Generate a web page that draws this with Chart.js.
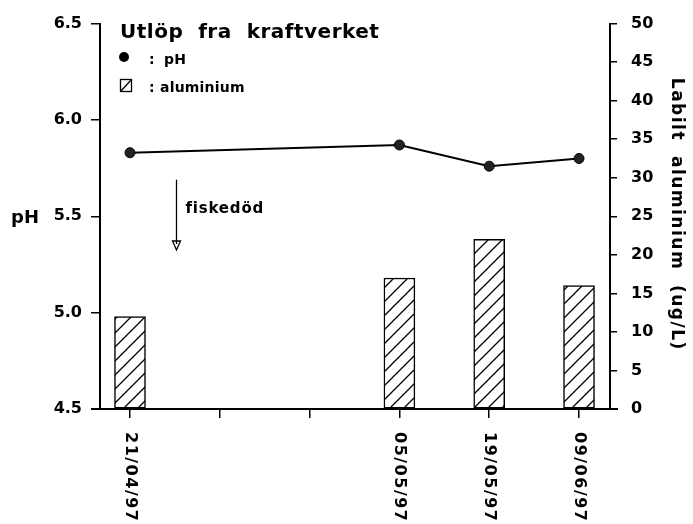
<!DOCTYPE html>
<html><head><meta charset="utf-8">
<script src="https://cdn.jsdelivr.net/npm/chart.js@4"></script>
<style>html,body{margin:0;padding:0;background:#fff}#wrap{width:693px;height:524px;position:relative}</style>
</head><body><div id="wrap"><canvas id="c"></canvas></div>
<script>
const categories = ['21/04/97', '', '', '05/05/97', '19/05/97', '09/06/97'];
const phValues = [5.83, null, null, 5.87, 5.76, 5.80];
const aluminiumValues = [12, null, null, 17, 22, 16];
const phTicks = [4.5, 5.0, 5.5, 6.0, 6.5];
const aluminiumTicks = [0, 5, 10, 15, 20, 25, 30, 35, 40, 45, 50];
const titleText = 'Utlöp  fra  kraftverket';
const phLegend = 'pH';
const alLegend = 'aluminium';
const leftTitle = 'pH';
const rightTitle = 'Labilt  aluminium  (ug/L)';
const noteText = 'fiskedöd';

const canvas = document.getElementById('c');
const ctx0 = canvas.getContext('2d');
function makeHatch() {
  const c = document.createElement('canvas');
  c.width = 14; c.height = 14;
  const g = c.getContext('2d');
  g.fillStyle = '#fff'; g.fillRect(0, 0, 14, 14);
  g.strokeStyle = '#000'; g.lineWidth = 1.3;
  g.beginPath();
  g.moveTo(-2, 16); g.lineTo(16, -2);
  g.moveTo(-2, 2); g.lineTo(2, -2);
  g.moveTo(12, 16); g.lineTo(16, 12);
  g.stroke();
  return ctx0.createPattern(c, 'repeat');
}
const hatch = makeHatch();

const toPoints = arr => arr.map((v, i) => v === null ? null : ({x: i, y: v})).filter(p => p);

const FONT = '"DejaVu Sans", sans-serif';

const decor = {
  id: 'decor',
  afterDraw(chart) {
    const ctx = chart.ctx;
    const xs = chart.scales.x, yp = chart.scales.y;
    ctx.save();
    ctx.fillStyle = '#000';
    ctx.strokeStyle = '#000';
    // x labels, rotated clockwise
    ctx.font = 'bold 16px ' + FONT;
    ctx.letterSpacing = '1.5px';
    categories.forEach((lab, i) => {
      if (!lab) return;
      const px = xs.getPixelForValue(i);
      ctx.save();
      ctx.translate(px, xs.top + 23);
      ctx.rotate(Math.PI / 2);
      ctx.textAlign = 'left';
      ctx.textBaseline = 'middle';
      ctx.fillText(lab, 0, 0);
      ctx.restore();
    });
    // title
    ctx.letterSpacing = '0.5px';
    ctx.font = 'bold 20px ' + FONT;
    ctx.textAlign = 'left';
    ctx.textBaseline = 'alphabetic';
    ctx.fillText(titleText, 120, 38);
    // legend
    ctx.letterSpacing = '0.2px';
    ctx.font = 'bold 14px ' + FONT;
    ctx.beginPath(); ctx.arc(124, 57, 5, 0, Math.PI * 2); ctx.fill();
    ctx.fillText(':', 149, 64);
    ctx.fillText(phLegend, 164, 64);
    ctx.lineWidth = 1.3;
    ctx.strokeRect(120.5, 79.5, 11, 12);
    ctx.beginPath(); ctx.moveTo(120.5, 91.5); ctx.lineTo(131.5, 79.5); ctx.stroke();
    ctx.fillText(':', 149, 92);
    ctx.fillText(alLegend, 160, 92);
    // left title
    ctx.letterSpacing = '0px';
    ctx.font = 'bold 18px ' + FONT;
    ctx.textBaseline = 'middle';
    ctx.fillText(leftTitle, 11, yp.getPixelForValue(5.5) + 2);
    // right title
    ctx.save();
    ctx.letterSpacing = '1.5px';
    ctx.font = 'bold 17px ' + FONT;
    ctx.translate(676, (chart.chartArea.top + chart.chartArea.bottom) / 2 - 2);
    ctx.rotate(Math.PI / 2);
    ctx.textAlign = 'center';
    ctx.textBaseline = 'middle';
    ctx.fillText(rightTitle, 0, 0);
    ctx.restore();
    // annotation arrow
    const ax = Math.round(xs.getPixelForValue(0.51)) + 0.5;
    const y1 = yp.getPixelForValue(5.69), y2 = yp.getPixelForValue(5.325);
    ctx.lineWidth = 1.3;
    ctx.beginPath(); ctx.moveTo(ax, y1); ctx.lineTo(ax, y2 - 6); ctx.stroke();
    ctx.beginPath(); ctx.moveTo(ax - 4, y2 - 9); ctx.lineTo(ax + 4, y2 - 9); ctx.lineTo(ax, y2); ctx.closePath(); ctx.stroke();
    ctx.letterSpacing = '0.8px';
    ctx.font = 'bold 15px ' + FONT;
    ctx.textAlign = 'left';
    ctx.textBaseline = 'middle';
    ctx.fillText(noteText, ax + 9, yp.getPixelForValue(5.535));
    // x axis line extends slightly beyond the y axes
    ctx.lineWidth = 2;
    ctx.beginPath();
    ctx.moveTo(chart.chartArea.left - 9, xs.top); ctx.lineTo(chart.chartArea.right + 8, xs.top);
    ctx.stroke();
    ctx.restore();
  }
};

new Chart(canvas, {
  data: {
    datasets: [
      {
        type: 'line', label: 'pH', data: toPoints(phValues), yAxisID: 'y', xAxisID: 'x',
        borderColor: '#000', borderWidth: 2, tension: 0,
        pointRadius: 5, pointBackgroundColor: '#222', pointBorderColor: '#000', pointBorderWidth: 1,
        order: 1
      },
      {
        type: 'bar', label: 'aluminium', data: toPoints(aluminiumValues), yAxisID: 'yAl', xAxisID: 'x',
        backgroundColor: hatch, borderColor: '#000', borderWidth: 1.5, barThickness: 31,
        borderSkipped: false, order: 2
      }
    ]
  },
  options: {
    responsive: true, maintainAspectRatio: false, animation: false,
    devicePixelRatio: 1,
    layout: {padding: {top: 22, left: 0, right: 0, bottom: 0}},
    plugins: {legend: {display: false}, tooltip: {enabled: false}},
    scales: {
      x: {
        type: 'linear', position: 'bottom', min: -0.334, max: 5.345, offset: false,
        afterBuildTicks: s => { s.ticks = categories.map((_, i) => ({value: i})); },
        afterFit: s => { s.height = 115; },
        ticks: {display: false},
        grid: {display: true, offset: false, drawOnChartArea: false, drawTicks: true, tickLength: 9, color: '#000', lineWidth: 1.5},
        border: {display: true, color: '#000', width: 2}
      },
      y: {
        type: 'linear', position: 'left', min: 4.5, max: 6.5,
        afterBuildTicks: s => { s.ticks = phTicks.map(v => ({value: v})); },
        afterFit: s => { s.width = 100; },
        ticks: {color: '#000', padding: 9, font: {family: FONT, size: 16, weight: 'bold'}, callback: v => v.toFixed(1)},
        grid: {display: true, drawOnChartArea: false, drawTicks: true, tickLength: 9, color: '#000', lineWidth: 1.5},
        border: {display: true, color: '#000', width: 2}
      },
      yAl: {
        type: 'linear', position: 'right', min: 0, max: 50,
        afterBuildTicks: s => { s.ticks = aluminiumTicks.map(v => ({value: v})); },
        afterFit: s => { s.width = 83; },
        ticks: {color: '#000', padding: 14, font: {family: FONT, size: 16, weight: 'bold'}},
        grid: {display: true, drawOnChartArea: false, drawTicks: true, tickLength: 7, color: '#000', lineWidth: 1.5},
        border: {display: true, color: '#000', width: 2}
      }
    }
  },
  plugins: [decor]
});
</script>
</body></html>
